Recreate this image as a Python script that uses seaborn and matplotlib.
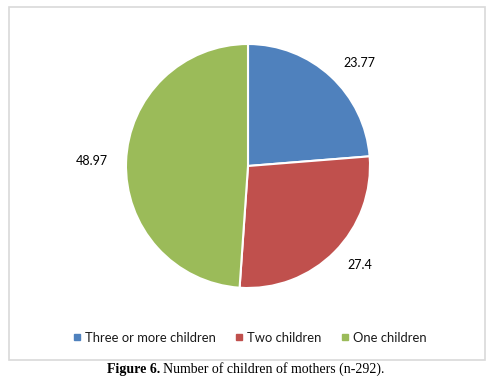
import matplotlib
matplotlib.use("Agg")
import matplotlib.pyplot as plt
from matplotlib.lines import Line2D
from matplotlib.patches import Rectangle
import seaborn as sns

# Data
categories = ["Three or more children", "Two children", "One children"]
values = [23.77, 27.4, 48.97]
labels = ["23.77", "27.4", "48.97"]
colors = ["#4F81BD", "#C0504D", "#9BBB59"]

sns.set_theme(style="white")
plt.rcParams["font.family"] = ["Lato", "DejaVu Sans"]

fig = plt.figure(figsize=(4.95, 3.78), dpi=100)

# Light grey chart border
fig.patches.append(Rectangle((9 / 495, 1 - 360 / 378), 476 / 495, 353 / 378,
                             transform=fig.transFigure, fill=False,
                             edgecolor="#D9D9D9", linewidth=1.2))

# Pie axes, radius 1 -> ~122 px, centred on (248, 166)
ax = fig.add_axes([(248 - 152.5) / 495, 1 - (166 + 152.5) / 378, 305 / 495, 305 / 378])
wedges, texts = ax.pie(values, labels=labels, colors=colors, startangle=90,
                       counterclock=False, labeldistance=1.15,
                       wedgeprops={"edgecolor": "white", "linewidth": 1.5},
                       textprops={"fontsize": 9, "color": "black"})
ax.set_aspect("equal")

# Legend under the pie
handles = [Line2D([0], [0], marker="s", linestyle="", markersize=4,
                  markerfacecolor=c, markeredgecolor=c) for c in colors]
fig.legend(handles, categories, loc="center", bbox_to_anchor=(0.505, 1 - 338 / 378),
           ncol=3, frameon=False, fontsize=9.4, handlelength=0.5,
           handletextpad=0.4, columnspacing=1.5, labelcolor="#1a1a1a")

# Caption below the chart box
fig.text(160 / 495, 1 - 369 / 378, "Figure 6.", ha="right", va="center",
         family="Liberation Serif", fontweight="bold", fontsize=10, color="black")
fig.text(163 / 495, 1 - 369 / 378, "Number of children of mothers (n-292).",
         ha="left", va="center", family="Liberation Serif", fontsize=10, color="black")

fig.savefig("out.png", dpi=100)
